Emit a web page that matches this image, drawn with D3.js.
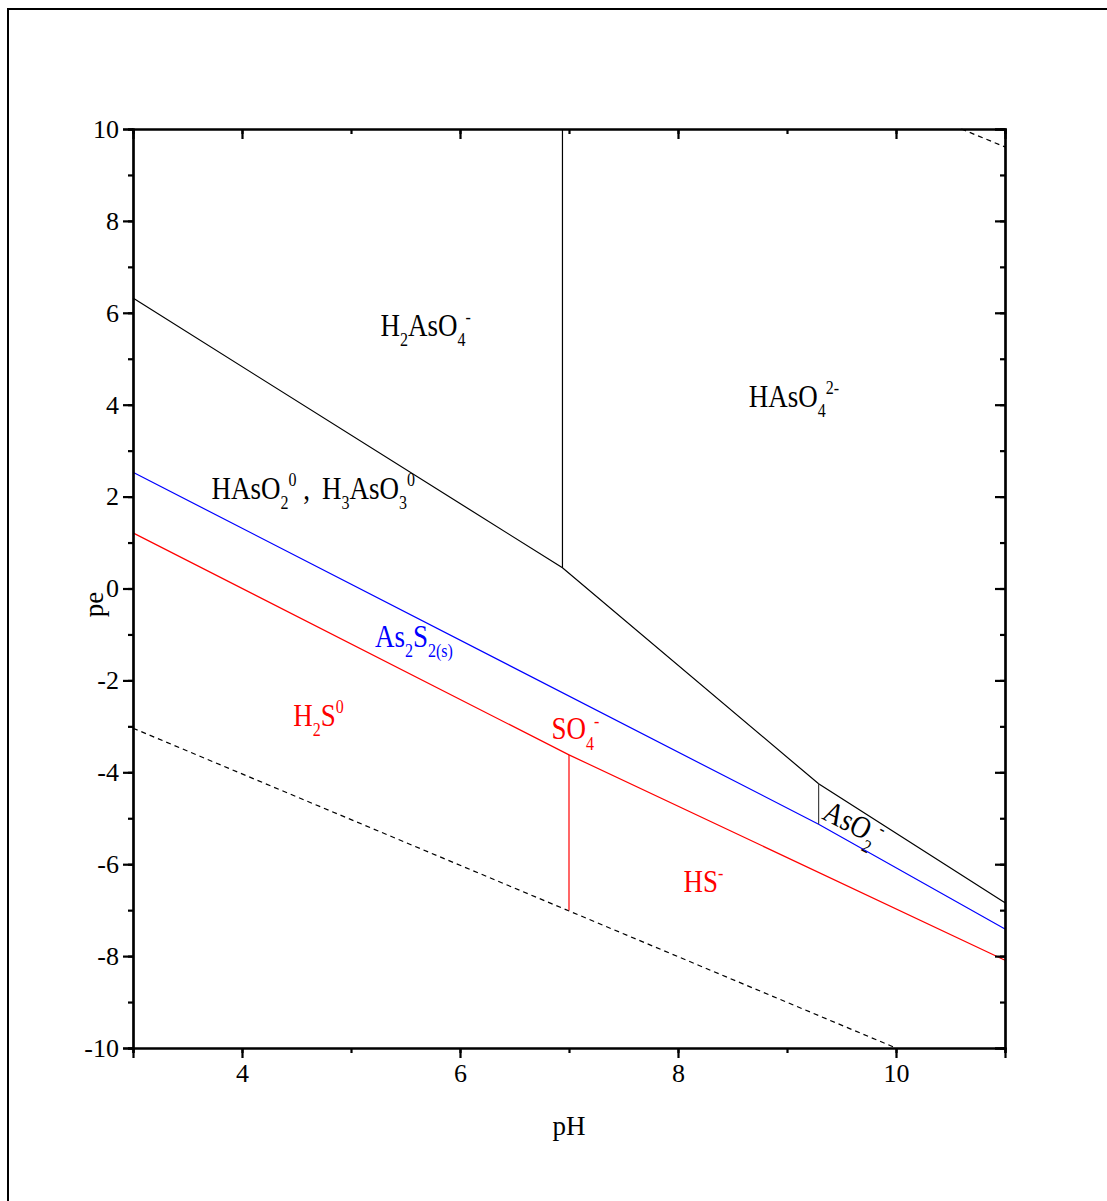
<!DOCTYPE html>
<html>
<head>
<meta charset="utf-8">
<script src="https://cdn.jsdelivr.net/npm/d3@7"></script>
<style>
  body { margin: 0; background: #fff; }
  svg { display: block; font-family: "Liberation Serif", "DejaVu Serif", serif; }
  svg text { font-family: "Liberation Serif", "DejaVu Serif", serif; }
</style>
</head>
<body>
<div id="chart"></div>
<script>
// boundaries, as [pH, pe] points
const arsenateUpper = [[3, 6.32], [6.94, 0.45], [9.29, -4.25], [11, -6.84]];
const arsenateDivide = [[6.94, 10], [6.94, 0.45]];
const arseniteDivide = [[9.29, -4.25], [9.29, -5.13]];
const as2s2Line = [[3, 2.53], [9.29, -5.13], [11, -7.41]];
const sulfurLine = [[3, 1.21], [7, -3.62], [11, -8.09]];
const sulfurDivide = [[7, -3.62], [7, -7.0]];
const waterLower = [[3, -3.04], [10, -10]];
const waterUpper = [[10.6, 10], [11, 9.61]];

const xTicks = [4, 6, 8, 10];
const yTicks = [-10, -8, -6, -4, -2, 0, 2, 4, 6, 8, 10];

// species labels: text parts ('' normal, 'sub', 'sup'), anchored at pH/pe
const labels = [
  {parts: [['H', ''], ['2', 'sub'], ['AsO', ''], ['4', 'sub'], ['-', 'sup']], ph: 5.27, pe: 5.5, color: 'black'},
  {parts: [['HAsO', ''], ['4', 'sub'], ['2-', 'sup']], ph: 8.65, pe: 3.95, color: 'black'},
  {parts: [['HAsO', ''], ['2', 'sub'], ['0', 'sup'], [' , \u2009H', ''], ['3', 'sub'], ['AsO', ''], ['3', 'sub'], ['0', 'sup']], ph: 3.72, pe: 1.95, color: 'black'},
  {parts: [['As', ''], ['2', 'sub'], ['S', ''], ['2(s)', 'sub']], ph: 5.22, pe: -1.27, color: 'blue'},
  {parts: [['H', ''], ['2', 'sub'], ['S', ''], ['0', 'sup']], ph: 4.47, pe: -2.99, color: 'red'},
  {parts: [['SO', ''], ['4', 'sub'], ['-', 'sup']], ph: 6.84, pe: -3.28, color: 'red'},
  {parts: [['HS', ''], ['-', 'sup']], ph: 8.05, pe: -6.6, color: 'red'},
  {parts: [['AsO', ''], ['2', 'sub'], ['-', 'sup']], ph: 9.31, pe: -5.0, color: 'black', angle: 27}
];

const width = 1107, height = 1201;
const svg = d3.select('#chart').append('svg')
  .attr('width', width)
  .attr('height', height);

// outer frame (runs off the right and bottom edges)
svg.append('rect')
  .attr('x', 8).attr('y', 9)
  .attr('width', 1300).attr('height', 1400)
  .attr('fill', 'none').attr('stroke', '#000').attr('stroke-width', 2);

const x = d3.scaleLinear().domain([3, 11]).range([133, 1005]);
const y = d3.scaleLinear().domain([-10, 10]).range([1048, 129]);

const line = d3.line().x(d => x(d[0])).y(d => y(d[1]));

function drawLine(data, color, dash) {
  svg.append('path')
    .datum(data)
    .attr('d', line)
    .attr('fill', 'none')
    .attr('stroke', color)
    .attr('stroke-width', 1.2)
    .attr('stroke-dasharray', dash || null);
}

drawLine(waterLower, '#000', '5,4');
drawLine(waterUpper, '#000', '5,4');
drawLine(sulfurLine, '#ff0000');
drawLine(sulfurDivide, '#ff0000');
drawLine(as2s2Line, '#0000ff');
drawLine(arsenateUpper, '#000');
drawLine(arsenateDivide, '#000');
drawLine(arseniteDivide, '#444');

// axes: minor ticks at every unit, major ones labelled
const minorX = d3.range(3, 12);
const minorY = d3.range(-10, 11);
const fmt = d => String(d);

const gBottom = svg.append('g').attr('transform', `translate(0,${y(-10)})`)
  .call(d3.axisBottom(x).tickValues(minorX).tickSize(5).tickFormat(''));
gBottom.append('g')
  .call(d3.axisBottom(x).tickValues(xTicks).tickSize(10).tickPadding(6).tickFormat(fmt));

const gLeft = svg.append('g').attr('transform', `translate(${x(3)},0)`)
  .call(d3.axisLeft(y).tickValues(minorY).tickSize(5).tickFormat(''));
gLeft.append('g')
  .call(d3.axisLeft(y).tickValues(yTicks).tickSize(10).tickPadding(4).tickFormat(fmt));

const gTop = svg.append('g').attr('transform', `translate(0,${y(10)})`)
  .call(d3.axisBottom(x).tickValues(minorX).tickSize(5).tickFormat(''));
gTop.append('g')
  .call(d3.axisBottom(x).tickValues(xTicks).tickSize(10).tickFormat(''));

const gRight = svg.append('g').attr('transform', `translate(${x(11)},0)`)
  .call(d3.axisLeft(y).tickValues(minorY).tickSize(5).tickFormat(''));
gRight.append('g')
  .call(d3.axisLeft(y).tickValues(yTicks).tickSize(10).tickFormat(''));

svg.selectAll('g').attr('font-family', null).attr('font-size', null);
svg.selectAll('.domain').attr('stroke', '#000').attr('stroke-width', 2.2);
svg.selectAll('.tick line').attr('stroke', '#000').attr('stroke-width', 2.2);
svg.selectAll('.tick text')
  .attr('fill', '#000')
  .style('font-size', '26px');

// axis titles
svg.append('text')
  .attr('x', x(7)).attr('y', 1135)
  .attr('text-anchor', 'middle')
  .style('font-size', '27px')
  .text('pH');

svg.append('text')
  .attr('transform', `translate(103,${y(-0.35)}) rotate(-90)`)
  .attr('text-anchor', 'middle')
  .style('font-size', '27px')
  .text('pe');

// species labels with sub/superscripts
const shift = {'': 0, sub: 9, sup: -11};
labels.forEach(lab => {
  const g = svg.append('g')
    .attr('transform', `translate(${x(lab.ph)},${y(lab.pe)}) rotate(${lab.angle || 0}) scale(1,1.15)`);
  const t = g.append('text').attr('fill', lab.color).style('font-size', '27px');
  let cur = 0;
  lab.parts.forEach(([s, kind]) => {
    const off = shift[kind];
    t.append('tspan')
      .attr('dy', off - cur)
      .style('font-size', kind ? '16px' : '27px')
      .style('white-space', 'pre')
      .text(s);
    cur = off;
  });
});
</script>
</body>
</html>
